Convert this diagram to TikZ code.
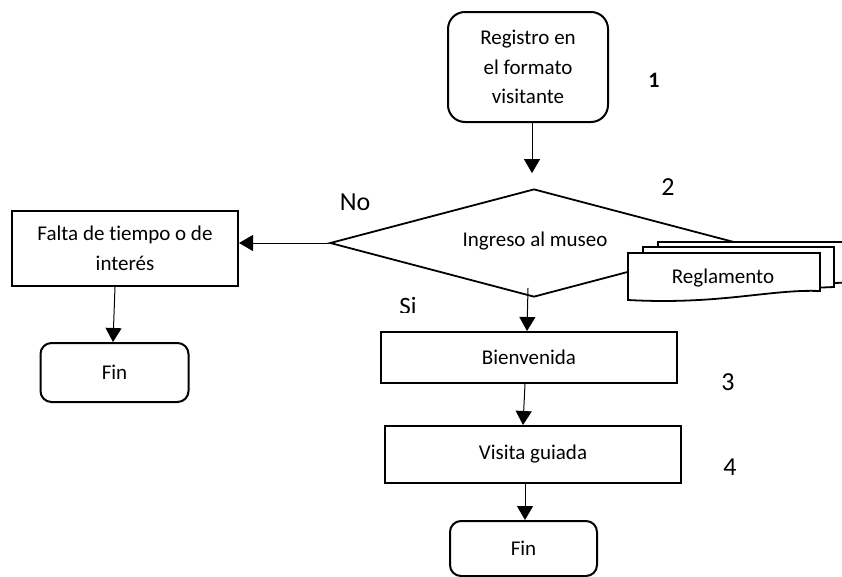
\documentclass[tikz,border=0pt]{standalone}
\usepackage{fontspec}
\setmainfont{Carlito}[Ligatures=NoCommon]
\usetikzlibrary{shapes.geometric,arrows.meta,calc}
\begin{document}
\begin{tikzpicture}[x=1pt,y=-1pt,
  boxtext/.style={font=\fontsize{21}{29.5}\selectfont, align=center, inner sep=0pt},
  procbox/.style={boxtext, draw, line width=2pt, fill=white},
  termbox/.style={boxtext, draw, line width=2pt, fill=white, rounded corners=11pt},
  arr/.style={line width=1pt, -{Triangle[length=14pt,width=16pt]}},
  biglabel/.style={font=\fontsize{26}{30}\selectfont, inner sep=0pt},
  docshape/.style={draw, line width=1.8pt, fill=white}
]
\useasboundingbox (0,0) rectangle (842,576);

% Nodes
\node[termbox, rounded corners=17pt, minimum width=160pt, minimum height=110pt] (reg) at (528,67)
  {Registro en\\el formato\\visitante};
\node[draw, diamond, line width=1.8pt, minimum width=408pt, minimum height=108pt, aspect=3.78, inner sep=0pt] (dia) at (534,243) {};
\node[boxtext] (ingreso) at (535,241) {Ingreso al museo};
\node[procbox, minimum width=226pt, minimum height=75pt] (falta) at (125,248.5)
  {Falta de tiempo o de\\interés};
\node[termbox, minimum width=148pt, minimum height=59pt] (fin1) at (114.5,372.5) {Fin};
\node[procbox, minimum width=296pt, minimum height=51pt] (bien) at (529,357.5) {Bienvenida};
\node[procbox, minimum width=296pt, minimum height=57pt] (vis) at (533,454.5) {Visita guiada};
\node[termbox, minimum width=147pt, minimum height=55pt] (fin2) at (523.5,548.5) {Fin};

% Multi-document
\draw[docshape] (658,242) -- (860,242) -- (860,282) -- (658,290) -- cycle;
\draw[docshape] (643,247) -- (834,247) -- (834,287) -- (643,295) -- cycle;
\draw[docshape] (628,253) -- (820,253) -- (820,291)
   .. controls (770,289) and (720,305) .. (628,300) -- cycle;
\node[boxtext] (regl) at (723,278) {Reglamento};

% Labels
\node[biglabel] (lno) at (355,202) {No};
\node[biglabel] (l2) at (668,187) {2};
\node[biglabel] (l3) at (728,382) {3};
\node[biglabel] (l4) at (730,467) {4};
\node[font=\fontsize{22}{26}\selectfont\bfseries, inner sep=0pt] (l1) at (654,80) {1};
\begin{scope}
  \clip (380,285) rectangle (440,312.5);
  \node[biglabel, font=\fontsize{25}{30}\selectfont] (lsi) at (408,306) {Si};
\end{scope}

% Connectors
\draw[arr] ($(reg.south)+(4,0)$) -- ($(dia.north)+(-2,-15)$);
\draw[arr] (dia.west) -- (dia.west -| falta.east);
\draw[arr] ($(dia.south)+(-6,-10)$) -- ($(bien.north)+(-2,0)$);
\draw[arr] ($(bien.south)+(-4,0)$) -- ($(vis.north)+(-10,0)$);
\draw[arr] ($(vis.south)+(-8,0)$) -- ($(fin2.north)+(1.5,0)$);
\draw[arr] ($(falta.south)+(-10,0)$) -- ($(fin1.north)+(-1.5,0)$);
\end{tikzpicture}
\end{document}
